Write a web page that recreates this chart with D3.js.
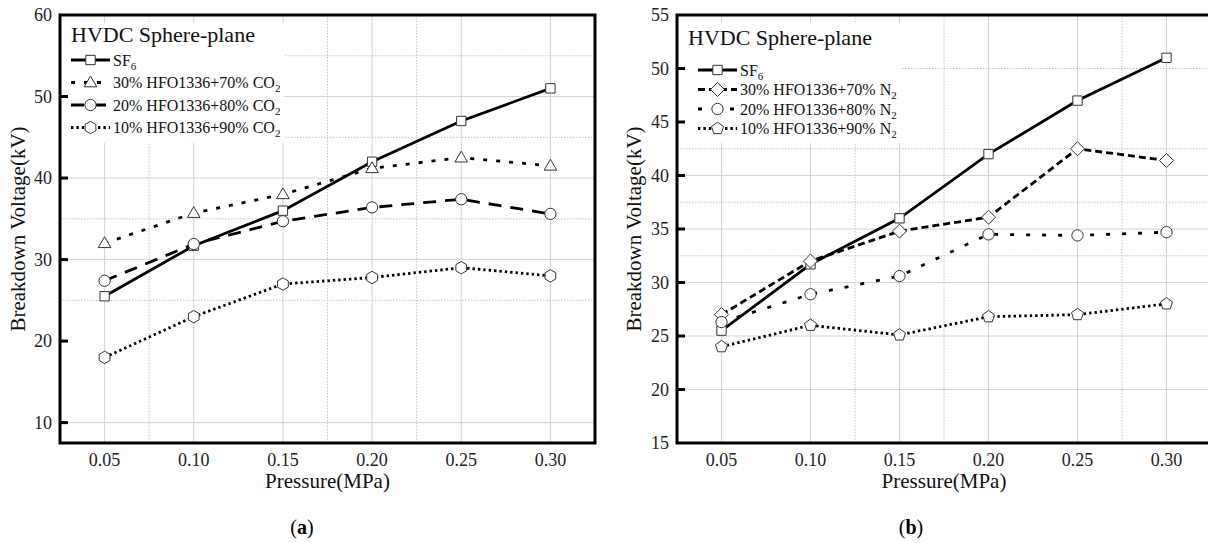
<!DOCTYPE html>
<html><head><meta charset="utf-8">
<script src="https://cdn.jsdelivr.net/npm/d3@7/dist/d3.min.js"></script>
<style>
body{margin:0;background:#fff}
svg{display:block}
text{font-family:"Liberation Serif","Times New Roman",serif}
</style>
</head><body>
<svg id="chart" width="1208" height="543"></svg>
<script>
// ---------- data ----------
const pressures = [0.05, 0.10, 0.15, 0.20, 0.25, 0.30];
const xTickLabels = ["0.05", "0.10", "0.15", "0.20", "0.25", "0.30"];

// panel (a): HFO1336 + CO2
const a_SF6   = [25.5, 31.7, 36.0, 42.0, 47.0, 51.0];
const a_CO2_30 = [32.0, 35.7, 38.0, 41.2, 42.5, 41.5];
const a_CO2_20 = [27.4, 31.9, 34.7, 36.4, 37.4, 35.6];
const a_CO2_10 = [18.0, 23.0, 27.0, 27.8, 29.0, 28.0];
const a_yTickLabels = [10, 20, 30, 40, 50, 60];
const a_yTickMarks = [10, 20, 30, 40, 50];
const a_legendNames = ["SF", "30% HFO1336+70% CO", "20% HFO1336+80% CO", "10% HFO1336+90% CO"];
const a_legendSubs = ["6", "2", "2", "2"];

// panel (b): HFO1336 + N2
const b_SF6   = [25.5, 31.7, 36.0, 42.0, 47.0, 51.0];
const b_N2_30 = [27.0, 32.0, 34.8, 36.1, 42.5, 41.4];
const b_N2_20 = [26.3, 28.9, 30.6, 34.5, 34.4, 34.7];
const b_N2_10 = [24.0, 26.0, 25.1, 26.8, 27.0, 28.0];
const b_yTickLabels = [15, 20, 25, 30, 35, 40, 45, 50, 55];
const b_yTickMarks = [20, 25, 30, 35, 40, 45, 50];
const b_legendNames = ["SF", "30% HFO1336+70% N", "20% HFO1336+80% N", "10% HFO1336+90% N"];
const b_legendSubs = ["6", "2", "2", "2"];

// grid lines visible in the reference
const a_gridMajorY = [10, 30, 40, 50];
const a_gridMinorY = [25, 35, 45, 55];
const a_gridMinorX = [0.075, 0.175, 0.225];
const b_gridMajorY = [20, 25, 30, 35, 40];
const b_gridMinorY = [32.5, 37.5, 42.5, 50];
const b_gridMinorX = [0.125, 0.175, 0.275];

const titleText = "HVDC Sphere-plane";
const xTitle = "Pressure(MPa)";
const yTitle = "Breakdown Voltage(kV)";

// ---------- drawing ----------
const svg = d3.select("#chart");
svg.append("rect").attr("width", 1208).attr("height", 543).attr("fill", "#fff");

function polyPath(n, r, rot) {
  const pts = d3.range(n).map(i => {
    const ang = rot + i * 2 * Math.PI / n;
    return [r * Math.sin(ang), -r * Math.cos(ang)];
  });
  return "M" + pts.map(p => p[0].toFixed(2) + "," + p[1].toFixed(2)).join("L") + "Z";
}
const markerPaths = {
  square: polyPath(4, 6.6, Math.PI / 4),
  triangle: "M0,-6.5L6.3,4.3L-6.3,4.3Z",
  circle: d3.symbol(d3.symbolCircle, 100)(),
  hexagon: polyPath(6, 6.2, 0),
  diamond: polyPath(4, 7, 0),
  pentagon: polyPath(5, 6.3, 0)
};
const dashStyles = {
  solid: null,
  longDash: "13,9",
  sparseDot: "4,9",
  dotted: "2.4,3",
  medDash: "7,4",
  sparseDash: "4,12"
};

function drawPanel(p) {
  const x = d3.scaleLinear().domain([0.025, 0.325]).range([p.left, p.right]);
  const y = d3.scaleLinear().domain(p.yDomain).range([443, 15]);
  const g = svg.append("g");

  // grid
  g.selectAll(".gx").data(pressures).join("line")
    .attr("x1", d => x(d)).attr("x2", d => x(d)).attr("y1", 15).attr("y2", 443)
    .attr("stroke", "#d4d4d4").attr("stroke-width", 1);
  g.selectAll(".gxm").data(p.gridMinorX).join("line")
    .attr("x1", d => x(d)).attr("x2", d => x(d)).attr("y1", 15).attr("y2", 443)
    .attr("stroke", "#c4c4c4").attr("stroke-width", 1).attr("stroke-dasharray", "1.5,1.5");
  g.selectAll(".gy").data(p.gridMajorY).join("line")
    .attr("x1", p.left).attr("x2", p.right).attr("y1", d => y(d)).attr("y2", d => y(d))
    .attr("stroke", "#d4d4d4").attr("stroke-width", 1);
  g.selectAll(".gym").data(p.gridMinorY).join("line")
    .attr("x1", p.left).attr("x2", p.right).attr("y1", d => y(d)).attr("y2", d => y(d))
    .attr("stroke", "#c4c4c4").attr("stroke-width", 1).attr("stroke-dasharray", "1.5,1.5");

  // legend background
  g.append("rect").attr("x", p.left + 2).attr("y", 23).attr("width", p.legendW).attr("height", 120)
    .attr("fill", "#fff");

  // series
  const line = d3.line().x((d, i) => x(pressures[i])).y(d => y(d));
  p.series.forEach(s => {
    g.append("path").datum(s.values).attr("d", line)
      .attr("fill", "none").attr("stroke", "#000").attr("stroke-width", 2.8)
      .attr("stroke-dasharray", dashStyles[s.dash]);
  });
  p.series.forEach(s => {
    g.selectAll(null).data(s.values).join("path")
      .attr("d", markerPaths[s.marker])
      .attr("transform", (d, i) => `translate(${x(pressures[i])},${y(d)})`)
      .attr("fill", "#fff").attr("stroke", "#333").attr("stroke-width", 1);
  });

  // frame
  g.append("rect").attr("x", p.left).attr("y", 15).attr("width", p.right - p.left).attr("height", 428)
    .attr("fill", "none").attr("stroke", "#000").attr("stroke-width", 3);
  // inward ticks on left axis
  g.selectAll(".tk").data(p.yTickMarks).join("line")
    .attr("x1", p.left).attr("x2", p.left + 8).attr("y1", d => y(d)).attr("y2", d => y(d))
    .attr("stroke", "#000").attr("stroke-width", 3);

  // tick labels
  g.selectAll(".yl").data(p.yTickLabels).join("text")
    .attr("x", p.left - 8).attr("y", d => y(d)).attr("dy", "0.35em")
    .attr("text-anchor", "end").attr("font-size", 18).attr("fill", "#222").text(d => d);
  g.selectAll(".xl").data(xTickLabels).join("text")
    .attr("x", (d, i) => x(pressures[i])).attr("y", 466)
    .attr("text-anchor", "middle").attr("font-size", 18).attr("fill", "#222").text(d => d);

  // axis titles
  g.append("text").attr("x", (p.left + p.right) / 2).attr("y", 488)
    .attr("text-anchor", "middle").attr("font-size", 21).attr("fill", "#111").text(xTitle);
  g.append("text").attr("transform", `translate(${p.yTitleX},229) rotate(-90)`)
    .attr("dy", "0.35em").attr("text-anchor", "middle").attr("font-size", 21).attr("fill", "#111").text(yTitle);

  // legend
  g.append("text").attr("x", p.left + 11).attr("y", p.titleY)
    .attr("font-size", 22).attr("fill", "#111").text(titleText);
  p.series.forEach((s, i) => {
    const ly = p.legendY[i];
    g.append("line").attr("x1", p.left + p.lx0).attr("x2", p.left + p.lx0 + 39)
      .attr("y1", ly).attr("y2", ly).attr("stroke", "#000").attr("stroke-width", 2.8)
      .attr("stroke-dasharray", dashStyles[s.dash]);
    g.append("path").attr("d", markerPaths[s.marker])
      .attr("transform", `translate(${p.left + p.lx0 + 19.5},${ly})`)
      .attr("fill", "#fff").attr("stroke", "#333").attr("stroke-width", 1);
    const t = g.append("text").attr("x", p.left + p.lx0 + 42).attr("y", ly + 5.5)
      .attr("font-size", 16).attr("fill", "#111");
    t.append("tspan").text(p.legendNames[i]);
    t.append("tspan").attr("dy", 4).attr("font-size", 11).text(p.legendSubs[i]);
  });

  // caption
  const cap = svg.append("text").attr("x", p.capX).attr("y", 534).attr("text-anchor", "middle")
    .attr("font-size", 20).attr("fill", "#000");
  cap.append("tspan").text("(");
  cap.append("tspan").attr("font-weight", "bold").text(p.capLetter);
  cap.append("tspan").text(")");
}

drawPanel({
  left: 60, right: 595, yDomain: [7.5, 60],
  series: [
    {values: a_SF6, marker: "square", dash: "solid"},
    {values: a_CO2_30, marker: "triangle", dash: "sparseDot"},
    {values: a_CO2_20, marker: "circle", dash: "longDash"},
    {values: a_CO2_10, marker: "hexagon", dash: "dotted"}
  ],
  gridMajorY: a_gridMajorY, gridMinorY: a_gridMinorY, gridMinorX: a_gridMinorX,
  yTickLabels: a_yTickLabels, yTickMarks: a_yTickMarks,
  legendNames: a_legendNames, legendSubs: a_legendSubs,
  legendW: 222, titleY: 42, legendY: [60, 82.5, 105, 127.5], lx0: 11,
  yTitleX: 18, capX: 302, capLetter: "a"
});
drawPanel({
  left: 677, right: 1211, yDomain: [15, 55],
  series: [
    {values: b_SF6, marker: "square", dash: "solid"},
    {values: b_N2_30, marker: "diamond", dash: "medDash"},
    {values: b_N2_20, marker: "circle", dash: "sparseDash"},
    {values: b_N2_10, marker: "pentagon", dash: "dotted"}
  ],
  gridMajorY: b_gridMajorY, gridMinorY: b_gridMinorY, gridMinorX: b_gridMinorX,
  yTickLabels: b_yTickLabels, yTickMarks: b_yTickMarks,
  legendNames: b_legendNames, legendSubs: b_legendSubs,
  legendW: 222, titleY: 45, legendY: [70, 89.5, 109, 128.5], lx0: 21,
  yTitleX: 634, capX: 911, capLetter: "b"
});
</script>
</body></html>
